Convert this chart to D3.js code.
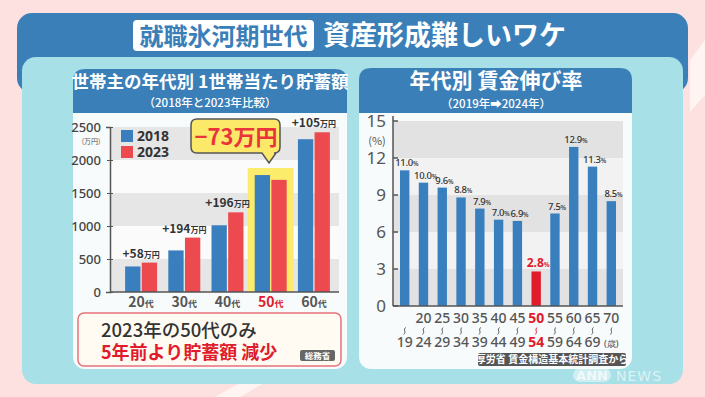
<!DOCTYPE html>
<html>
<head>
<meta charset="utf-8">
<script src="https://cdn.jsdelivr.net/npm/d3@7"></script>
<style>
  html, body { margin: 0; padding: 0; background: #fde1e1; }
  svg { display: block; font-family: "Noto Sans CJK JP", "Noto Sans", sans-serif; }
</style>
</head>
<body>
<svg id="chart" width="705" height="397"></svg>
<script>
// ── data: left chart (savings per household, 万円) ──
const ageGroups = ['20代', '30代', '40代', '50代', '60代'];
const years = ['2018', '2023'];
const savings2018 = [387, 630, 1011, 1772, 2315];
const savings2023 = [445, 824, 1207, 1699, 2420];
const diffLabels = ['+58', '+194', '+196', '', '+105'];
const savingsTicks = [0, 500, 1000, 1500, 2000, 2500];

// ── data: right chart (wage growth %, 2019→2024) ──
const ageFrom = ['', '20', '25', '30', '35', '40', '45', '50', '55', '60', '65', '70'];
const ageTo = ['19', '24', '29', '34', '39', '44', '49', '54', '59', '64', '69', '(歳)'];
const wageGrowth = [11.0, 10.0, 9.6, 8.8, 7.9, 7.0, 6.9, 2.8, 7.5, 12.9, 11.3, 8.5];
const wageTicks = [0, 3, 6, 9, 12, 15];

const BLUE = '#3a7fbd', RED = '#ec4a4f', HOT = '#e01b2b';
const svg = d3.select('#chart');

// background decoration
svg.append('polygon').attr('points', '215,397 238,384 262,384 240,397').attr('fill', '#fff4f2');
svg.append('polygon').attr('points', '705,40 705,95 690,112 690,60').attr('fill', '#fff4f2');

// outer frame
svg.append('rect').attr('x', 17).attr('y', 13).attr('width', 671).attr('height', 80).attr('rx', 15).attr('fill', '#3b7fb9');
svg.append('rect').attr('x', 22).attr('y', 57).attr('width', 661).attr('height', 327).attr('rx', 14).attr('fill', '#a7e0e7');

// header title
svg.append('rect').attr('x', 133).attr('y', 20).attr('width', 181).attr('height', 31).attr('rx', 4).attr('fill', '#fff');
svg.append('text').attr('x', 223.5).attr('y', 44.5).attr('text-anchor', 'middle')
  .attr('font-size', 24).attr('font-weight', 700).attr('fill', '#3b7fb9').text('就職氷河期世代');
svg.append('text').attr('x', 323).attr('y', 45).attr('font-size', 27).attr('font-weight', 700)
  .attr('fill', '#fff').text('資産形成難しいワケ');

// cards
function card(x, y, w, h, bandH) {
  svg.append('rect').attr('x', x).attr('y', y).attr('width', w).attr('height', h).attr('rx', 12).attr('fill', '#f7fbfc');
  const r = 12;
  svg.append('path').attr('fill', '#3b7fb9')
    .attr('d', `M${x},${y + bandH} V${y + r} Q${x},${y} ${x + r},${y} H${x + w - r} Q${x + w},${y} ${x + w},${y + r} V${y + bandH} Z`);
}
card(73, 69, 274, 300, 44);
card(359, 68, 273, 301, 45);

// card titles
svg.append('text').attr('x', 210).attr('y', 88).attr('text-anchor', 'middle').attr('font-size', 17.5)
  .attr('font-weight', 700).attr('fill', '#fff').text('世帯主の年代別 1世帯当たり貯蓄額');
svg.append('text').attr('x', 210).attr('y', 107).attr('text-anchor', 'middle').attr('font-size', 11.5)
  .attr('font-weight', 500).attr('fill', '#fff').text('（2018年と2023年比較）');
svg.append('text').attr('x', 496).attr('y', 88).attr('text-anchor', 'middle').attr('font-size', 21)
  .attr('font-weight', 700).attr('fill', '#fff').text('年代別 賃金伸び率');
svg.append('text').attr('x', 496).attr('y', 107.5).attr('text-anchor', 'middle').attr('font-size', 11.5)
  .attr('font-weight', 500).attr('fill', '#fff').text('（2019年➡2024年）');

// ── left chart ──
const yL = d3.scaleLinear().domain([0, 2500]).range([292, 127]);
const xL = d3.scaleBand().domain(ageGroups).range([119.5, 335.5]).paddingInner(0.26).paddingOuter(0.13);
const xSub = d3.scaleBand().domain(years).range([0, xL.bandwidth()]).paddingInner(0.08);
const left = svg.append('g');

left.selectAll('rect.band').data(d3.range(5)).join('rect')
  .attr('x', 110).attr('width', 229)
  .attr('y', i => yL((i + 1) * 500)).attr('height', i => yL(i * 500) - yL((i + 1) * 500))
  .attr('fill', i => i % 2 === 0 ? '#e6e6e6' : '#fbfbfb');

// 50代 highlight
left.append('rect').attr('x', xL('50代') - 7).attr('width', xL.bandwidth() + 14)
  .attr('y', 168).attr('height', yL(0) - 168).attr('fill', '#fbec6c');

const rows = ageGroups.map((g, i) => ({ g, i, v: [savings2018[i], savings2023[i]] }));
const grp = left.selectAll('g.grp').data(rows).join('g').attr('transform', d => `translate(${xL(d.g)},0)`);
grp.selectAll('rect').data(d => d.v.map((v, k) => ({ v, k }))).join('rect')
  .attr('x', d => xSub(years[d.k])).attr('width', xSub.bandwidth())
  .attr('y', d => yL(d.v)).attr('height', d => yL(0) - yL(d.v))
  .attr('fill', d => d.k === 0 ? BLUE : RED);

// difference labels
rows.filter(d => diffLabels[d.i]).forEach(d => {
  const t = left.append('text').attr('x', xL(d.g) + xL.bandwidth() / 2).attr('y', yL(Math.max(...d.v)) - 5)
    .attr('text-anchor', 'middle').attr('fill', '#333').attr('font-weight', 700).attr('font-size', 12);
  t.append('tspan').text(diffLabels[d.i]);
  t.append('tspan').attr('font-size', 8).text('万円');
});

// axes
const axL = left.append('g').attr('transform', 'translate(110,0)')
  .call(d3.axisLeft(yL).tickValues(savingsTicks).tickFormat(d3.format('d')).tickSize(4).tickPadding(5));
axL.select('.domain').attr('stroke', '#555').attr('stroke-width', 1.5);
axL.selectAll('line').attr('stroke', '#555').attr('x2', 3).attr('x1', -3);
axL.selectAll('text').attr('font-size', 13).attr('fill', '#444').attr('font-family', '"Noto Sans", sans-serif').attr('font-weight', 500);
left.append('line').attr('x1', 110).attr('x2', 339).attr('y1', yL(0)).attr('y2', yL(0)).attr('stroke', '#555').attr('stroke-width', 1.5);
left.append('text').attr('x', 91).attr('y', 144).attr('text-anchor', 'middle').attr('font-size', 7).attr('fill', '#555').text('(万円)');

left.selectAll('text.xl').data(ageGroups).join('text')
  .attr('x', d => xL(d) + xL.bandwidth() / 2).attr('y', 307).attr('text-anchor', 'middle')
  .attr('font-size', 14).attr('font-weight', 700).attr('fill', d => d === '50代' ? HOT : '#555')
  .each(function (d) {
    d3.select(this).append('tspan').text(d.slice(0, 2));
    d3.select(this).append('tspan').attr('font-size', 9).text(d.slice(2));
  });

// legend
years.forEach((y, k) => {
  left.append('rect').attr('x', 121).attr('y', 130 + k * 16).attr('width', 12).attr('height', 12).attr('fill', k === 0 ? BLUE : RED);
  left.append('text').attr('x', 137).attr('y', 141 + k * 16).attr('font-size', 14).attr('font-weight', 700)
    .attr('fill', '#333').attr('font-family', '"Noto Sans", sans-serif').text(y);
});

// callout
left.append('path').attr('d', 'M197,119 H274 Q280,119 280,125 V147 Q280,153 274,153 H276 L269,163 L262,153 H197 Q191,153 191,147 V125 Q191,119 197,119 Z')
  .attr('fill', '#fce96a').attr('stroke', '#555').attr('stroke-width', 1.5);
left.append('text').attr('x', 236).attr('y', 145).attr('text-anchor', 'middle').attr('font-size', 22)
  .attr('font-weight', 700).attr('fill', '#e8343a').text('−73万円');

// note box
left.append('rect').attr('x', 78).attr('y', 313).attr('width', 263).attr('height', 53).attr('rx', 6)
  .attr('fill', '#fffbf2').attr('stroke', '#e8727a').attr('stroke-width', 1.5);
left.append('text').attr('x', 101).attr('y', 337).attr('font-size', 18.5).attr('font-weight', 500).attr('fill', '#333').text('2023年の50代のみ');
left.append('text').attr('x', 101).attr('y', 358.5).attr('font-size', 18).attr('font-weight', 700).attr('fill', HOT).text('5年前より貯蓄額 減少');
left.append('rect').attr('x', 300).attr('y', 350).attr('width', 35).attr('height', 11).attr('rx', 2).attr('fill', '#666');
left.append('text').attr('x', 317.5).attr('y', 359).attr('text-anchor', 'middle').attr('font-size', 8.5).attr('font-weight', 700).attr('fill', '#fff').text('総務省');

// ── right chart ──
const yR = d3.scaleLinear().domain([0, 15]).range([306, 121]);
const xR = d3.scaleBand().domain(d3.range(wageGrowth.length)).range([395.3, 620.7]).paddingInner(0.5).paddingOuter(0.25);
const right = svg.append('g');

right.selectAll('rect.band').data(d3.range(5)).join('rect')
  .attr('x', 393).attr('width', 230)
  .attr('y', i => yR((i + 1) * 3)).attr('height', i => yR(i * 3) - yR((i + 1) * 3))
  .attr('fill', i => i % 2 === 0 ? '#e2e2e2' : '#f2f2f2');

right.selectAll('rect.bar').data(wageGrowth).join('rect')
  .attr('x', (d, i) => xR(i)).attr('width', xR.bandwidth())
  .attr('y', d => yR(d)).attr('height', d => yR(0) - yR(d))
  .attr('fill', (d, i) => i === 7 ? HOT : BLUE);

right.selectAll('text.val').data(wageGrowth).join('text')
  .attr('x', (d, i) => xR(i) + xR.bandwidth() / 2 + 2).attr('y', d => yR(d) - 4)
  .attr('text-anchor', 'middle').attr('font-family', '"Noto Sans", sans-serif')
  .attr('font-size', (d, i) => i === 7 ? 12 : 9.5).attr('font-weight', (d, i) => i === 7 ? 700 : 500)
  .attr('letter-spacing', (d, i) => i === 7 ? 0 : -0.3)
  .attr('fill', (d, i) => i === 7 ? HOT : '#333')
  .each(function (d) {
    d3.select(this).append('tspan').text(d.toFixed(1));
    d3.select(this).append('tspan').attr('font-size', 6.5).text('%');
  });

const axR = right.append('g').attr('transform', 'translate(393,0)')
  .call(d3.axisLeft(yR).tickValues(wageTicks).tickSize(0).tickPadding(7));
axR.select('.domain').remove();
axR.selectAll('text').attr('font-size', 17).attr('fill', '#555').attr('font-family', '"Noto Sans", sans-serif').attr('font-weight', 400);
right.selectAll('line.tk').data(wageTicks).join('line')
  .attr('x1', 393).attr('x2', 398).attr('y1', d => yR(d)).attr('y2', d => yR(d)).attr('stroke', '#555').attr('stroke-width', 1.5);
right.append('line').attr('x1', 393).attr('x2', 393).attr('y1', 116).attr('y2', yR(0)).attr('stroke', '#555').attr('stroke-width', 1.5);
right.append('line').attr('x1', 393).attr('x2', 623).attr('y1', yR(0)).attr('y2', yR(0)).attr('stroke', '#555').attr('stroke-width', 1.5);
right.append('text').attr('x', 377).attr('y', 145).attr('text-anchor', 'middle').attr('font-size', 11).attr('fill', '#555').text('(%)');

const ageColor = (i) => i === 7 ? HOT : '#555';
const cx = (i) => xR(i) + xR.bandwidth() / 2;
right.selectAll('text.from').data(ageFrom).join('text')
  .attr('x', (d, i) => cx(i)).attr('y', 323).attr('text-anchor', 'middle')
  .attr('font-family', '"Noto Sans", sans-serif').attr('font-size', 14)
  .attr('font-weight', (d, i) => i === 7 ? 700 : 500).attr('fill', (d, i) => ageColor(i)).text(d => d);
// small wavy "~" separators between the two rows
right.selectAll('path.wave').data(ageTo).join('path')
  .attr('d', (d, i) => `M${cx(i) + 1},327.5 C${cx(i) - 2},329.5 ${cx(i) + 2},332 ${cx(i) - 1},334.5`)
  .attr('fill', 'none').attr('stroke', (d, i) => ageColor(i)).attr('stroke-width', 1);
right.selectAll('text.to').data(ageTo).join('text')
  .attr('x', (d, i) => cx(i)).attr('y', 347).attr('text-anchor', 'middle')
  .attr('font-family', '"Noto Sans", sans-serif')
  .attr('font-size', (d, i) => i === 11 ? 9 : 14)
  .attr('font-weight', (d, i) => i === 7 ? 700 : 500).attr('fill', (d, i) => ageColor(i)).text(d => d);

right.append('rect').attr('x', 478).attr('y', 353).attr('width', 148).attr('height', 13).attr('rx', 2).attr('fill', '#555');
right.append('text').attr('x', 552).attr('y', 363).attr('text-anchor', 'middle').attr('font-size', 10)
  .attr('font-weight', 700).attr('fill', '#fff').text('厚労省 賃金構造基本統計調査から');

// watermark
svg.append('rect').attr('x', 573).attr('y', 368).attr('width', 38).attr('height', 14).attr('rx', 7).attr('fill', '#fff').attr('opacity', 0.45);
svg.append('text').attr('x', 592).attr('y', 380).attr('text-anchor', 'middle').attr('font-size', 13).attr('font-weight', 700)
  .attr('fill', '#fff').attr('opacity', 0.7).attr('font-family', '"DejaVu Sans", sans-serif').text('ANN');
svg.append('text').attr('x', 616).attr('y', 381).attr('font-size', 14).attr('fill', '#fff').attr('opacity', 0.6)
  .attr('font-family', '"DejaVu Sans", sans-serif').attr('letter-spacing', 1).text('NEWS');
</script>
</body>
</html>
